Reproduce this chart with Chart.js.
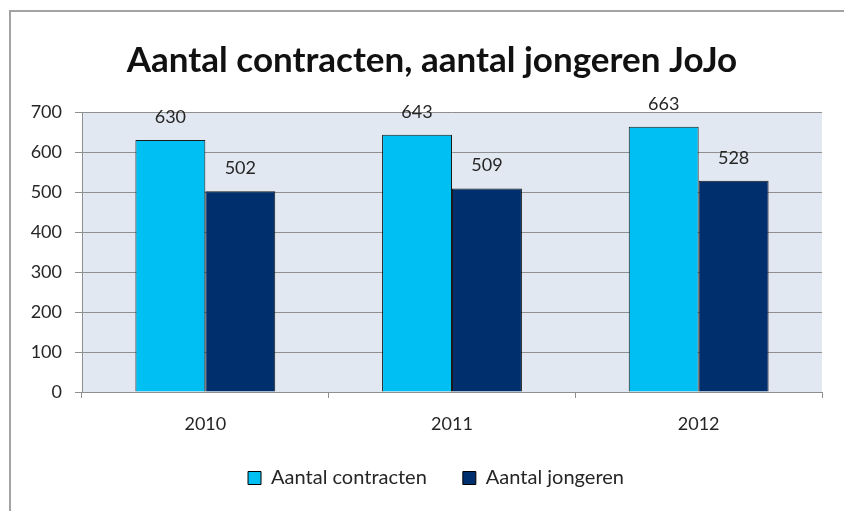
<!doctype html>
<html lang="nl">
<head>
  <meta charset="utf-8">
  <title>Aantal contracten, aantal jongeren JoJo</title>
  <script src="https://cdn.jsdelivr.net/npm/chart.js"></script>
  <style>
    html, body { margin: 0; padding: 0; background: #fff; }
    #wrap { position: relative; width: 844px; height: 511px; }
    #frame {
      position: absolute; left: 9px; top: 10px; right: 0; bottom: 0;
      border-top: 2px solid #a3a3a3; border-left: 2px solid #a3a3a3;
      pointer-events: none;
    }
  </style>
</head>
<body>
  <div id="wrap">
    <canvas id="chart" width="844" height="511"></canvas>
    <div id="frame"></div>
  </div>

  <script>
    const years = ['2010', '2011', '2012'];
    const contracten = [630, 643, 663];
    const jongeren = [502, 509, 528];
    const yTicks = [0, 100, 200, 300, 400, 500, 600, 700];

    const FONT = 'Lato, "Open Sans", sans-serif';

    // light blue-grey plot background
    const plotBg = {
      id: 'plotBg',
      beforeDraw(chart) {
        const { ctx, chartArea: a } = chart;
        ctx.save();
        ctx.fillStyle = '#e1e8f1';
        ctx.fillRect(a.left, a.top, a.right - a.left, a.bottom - a.top);
        ctx.restore();
      }
    };

    // the original chart was wider than the crop, so title and legend sit a bit right of centre
    const shiftBlocks = {
      id: 'shiftBlocks',
      afterLayout(chart) {
        if (chart.titleBlock) chart.titleBlock.left += 32;
        if (chart.legend) chart.legend.left += 40;
      }
    };

    // value labels above the bars
    const valueLabels = {
      id: 'valueLabels',
      afterDatasetsDraw(chart) {
        const ctx = chart.ctx;
        ctx.save();
        ctx.font = '18px ' + FONT;
        ctx.fillStyle = '#262626';
        ctx.textAlign = 'center';
        ctx.textBaseline = 'middle';
        chart.data.datasets.forEach((ds, i) => {
          chart.getDatasetMeta(i).data.forEach((bar, j) => {
            ctx.fillText(String(ds.data[j]), bar.x, bar.y - 23);
          });
        });
        ctx.restore();
      }
    };

    new Chart(document.getElementById('chart'), {
      type: 'bar',
      data: {
        labels: years,
        datasets: [
          { label: 'Aantal contracten', data: contracten, backgroundColor: '#00bff2',
            borderColor: '#1a1a1a', borderWidth: 1, borderSkipped: 'bottom' },
          { label: 'Aantal jongeren', data: jongeren, backgroundColor: '#002f6e',
            borderColor: '#1a1a1a', borderWidth: 1, borderSkipped: 'bottom' }
        ]
      },
      options: {
        responsive: false,
        animation: false,
        events: [],
        categoryPercentage: 0.567,
        barPercentage: 1.0,
        layout: { padding: { left: 10, right: 22, top: 0, bottom: 13 } },
        plugins: {
          title: {
            display: true,
            text: 'Aantal contracten, aantal jongeren JoJo',
            color: '#111',
            font: { family: FONT, size: 35, weight: 'bold', lineHeight: 1.1 },
            padding: { top: 41, bottom: 32.5 }
          },
          legend: {
            position: 'bottom',
            labels: {
              color: '#262626',
              font: { family: FONT, size: 20 },
              boxWidth: 13,
              boxHeight: 13,
              padding: 36,
              generateLabels(chart) {
                return chart.data.datasets.map((ds, i) => ({
                  text: ds.label,
                  fillStyle: ds.backgroundColor,
                  strokeStyle: '#000',
                  lineWidth: 1,
                  fontColor: '#262626',
                  datasetIndex: i
                }));
              }
            }
          },
          tooltip: { enabled: false }
        },
        scales: {
          x: {
            afterFit(scale) { scale.height = 40; },
            grid: { offset: true, drawOnChartArea: false, drawTicks: true, tickLength: 6, color: '#8f8f8f' },
            border: { display: true, color: '#8f8f8f', width: 1 },
            ticks: { color: '#262626', font: { family: FONT, size: 18 }, padding: 15 }
          },
          y: {
            min: 0,
            max: 700,
            afterFit(scale) { scale.width = 72; },
            afterBuildTicks(scale) { scale.ticks = yTicks.map(v => ({ value: v })); },
            grid: { color: '#8f8f8f', tickLength: 7, drawTicks: true },
            border: { display: true, color: '#8f8f8f', width: 1 },
            ticks: { color: '#262626', font: { family: FONT, size: 18 }, padding: 13 }
          }
        }
      },
      plugins: [plotBg, shiftBlocks, valueLabels]
    });
  </script>
</body>
</html>
